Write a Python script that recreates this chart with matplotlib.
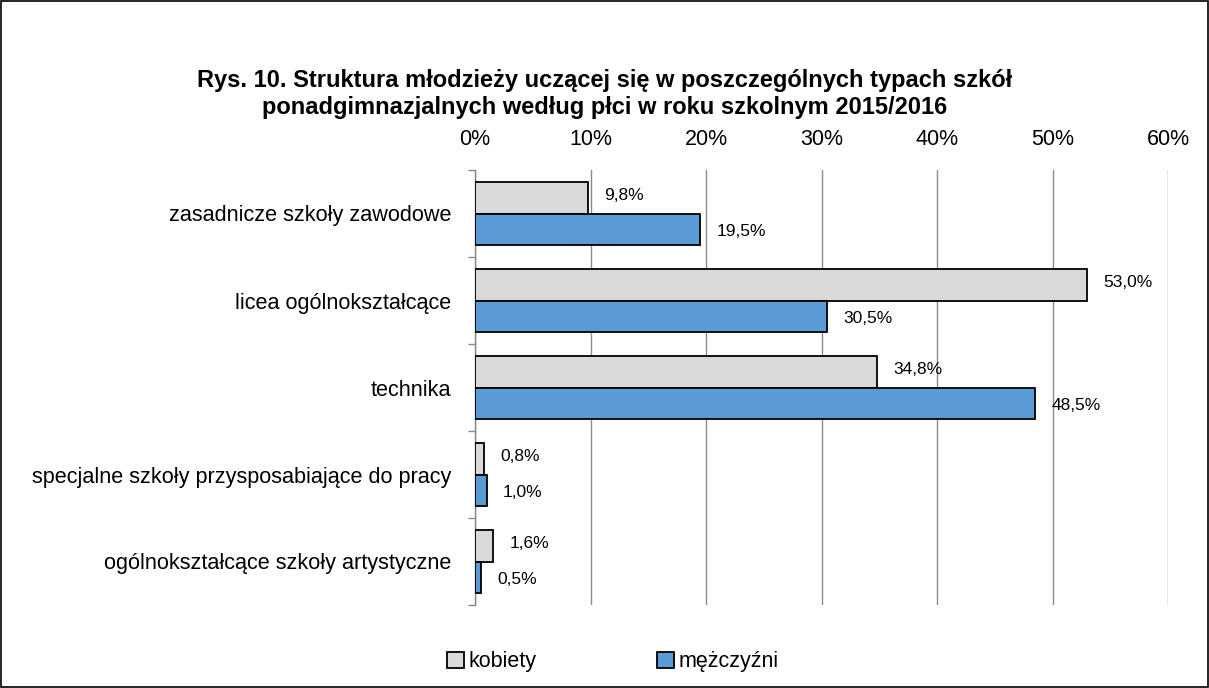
import matplotlib
matplotlib.use("Agg")
import matplotlib.pyplot as plt
import numpy as np
from matplotlib.patches import Rectangle

plt.rcParams['font.family'] = ['Liberation Sans', 'DejaVu Sans']

categories = ["zasadnicze szkoły zawodowe", "licea ogólnokształcące", "technika",
              "specjalne szkoły przysposabiające do pracy", "ogólnokształcące szkoły artystyczne"]
kobiety = [9.8, 53.0, 34.8, 0.8, 1.6]
mezczyzni = [19.5, 30.5, 48.5, 1.0, 0.5]
series_names = ["kobiety", "mężczyźni"]
xticks = [0, 10, 20, 30, 40, 50, 60]
title = ("Rys. 10. Struktura młodzieży uczącej się w poszczególnych typach szkół\n"
         "ponadgimnazjalnych według płci w roku szkolnym 2015/2016")

W, H = 1209, 688
fig = plt.figure(figsize=(W / 100, H / 100), dpi=100)
ax = fig.add_axes([475 / W, 1 - 605 / H, (1168 - 475) / W, (605 - 170) / H])

y = np.arange(len(categories))
h = 0.365
c_k = "#d9d9d9"
c_m = "#5b9bd5"
ax.barh(y - h / 2, kobiety, height=h, color=c_k, edgecolor="black", linewidth=1.3, label=series_names[0], zorder=3)
ax.barh(y + h / 2, mezczyzni, height=h, color=c_m, edgecolor="black", linewidth=1.3, label=series_names[1], zorder=3)

for yi, v in zip(y, kobiety):
    ax.text(v + 1.4, yi - h / 2 - 0.02, f"{v:.1f}%".replace(".", ","), va="center", ha="left", fontsize=12.5)
for yi, v in zip(y, mezczyzni):
    ax.text(v + 1.4, yi + h / 2 + 0.02, f"{v:.1f}%".replace(".", ","), va="center", ha="left", fontsize=12.5)

ax.set_xlim(0, 60)
ax.set_ylim(len(categories) - 0.5, -0.5)
ax.set_xticks(xticks)
ax.set_xticklabels([f"{t}%" for t in xticks], fontsize=15.5)
ax.xaxis.tick_top()
ax.tick_params(axis="x", length=0, pad=14.5)
ax.set_yticks(y)
ax.set_yticklabels(categories, fontsize=15.6)
ax.tick_params(axis="y", which="major", length=0, pad=17)
ax.set_yticks(np.arange(-0.5, len(categories)), minor=True)
ax.tick_params(axis="y", which="minor", length=5, color="#888888", width=1)
ax.grid(axis="x", color="#8c8c8c", linewidth=1, zorder=0)
for s in ["top", "right", "bottom"]:
    ax.spines[s].set_visible(False)
ax.spines["left"].set_color("#888888")
ax.spines["left"].set_linewidth(1)

fig.text(605 / W, 1 - 94 / H, title, ha="center", va="center", fontsize=17, fontweight="bold", linespacing=1.2)

leg = fig.legend(loc="center", bbox_to_anchor=(0.507, 1 - 662 / H), ncol=2, frameon=False,
                 fontsize=15.5, handlelength=0.8, handleheight=0.8, handletextpad=0.2, columnspacing=5.6)

fig.patches.append(Rectangle((0.0008, 0.001), 0.9984, 0.998, transform=fig.transFigure,
                             fill=False, edgecolor="black", linewidth=1.2))

fig.savefig("out.png", dpi=100)
